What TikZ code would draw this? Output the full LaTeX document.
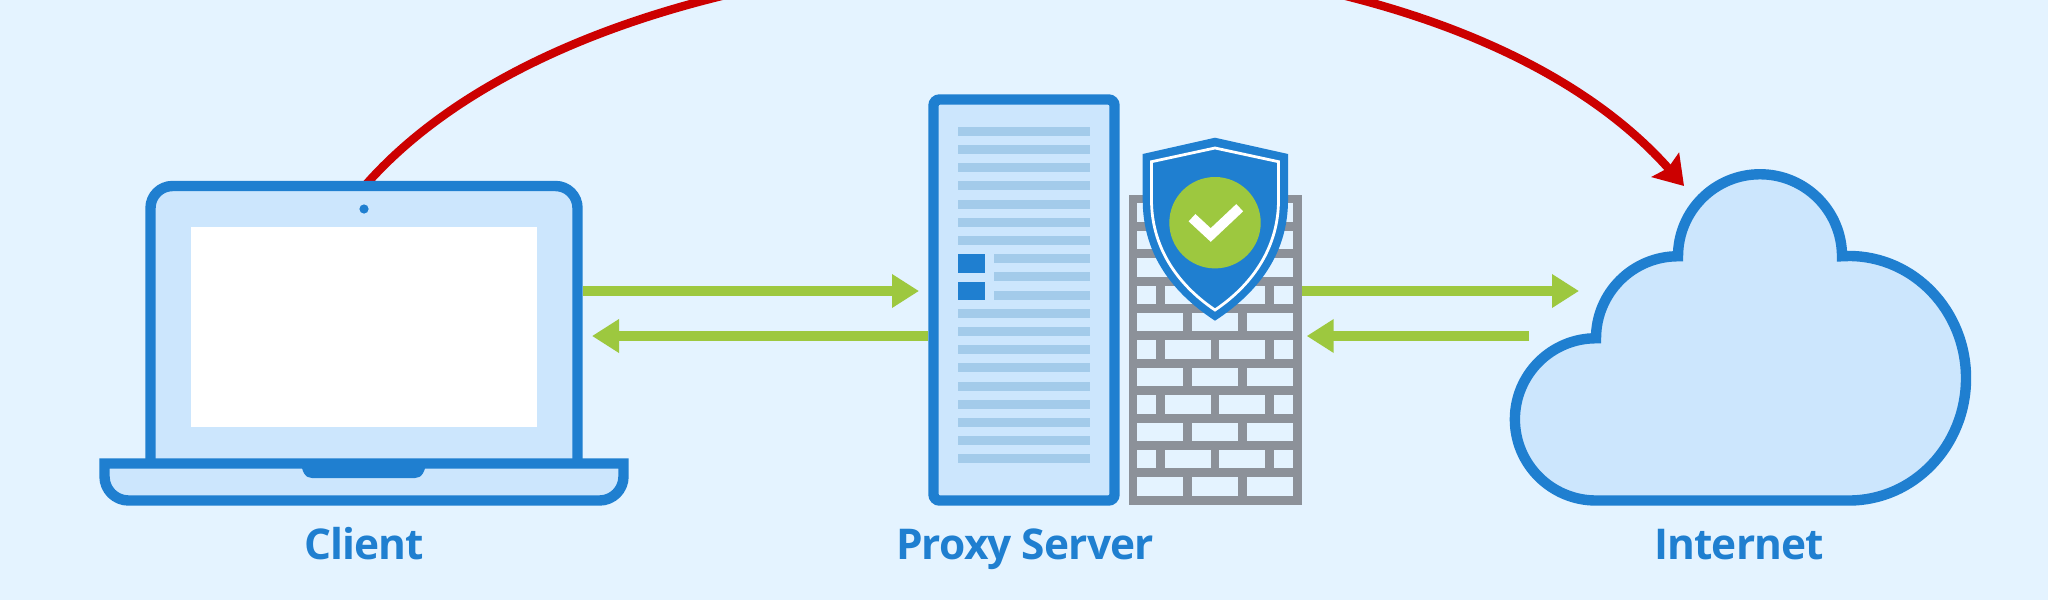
\documentclass[tikz,border=0pt]{standalone}
\usepackage{fontspec}
\setmainfont{Open Sans}[LetterSpace=-2]
\usetikzlibrary{arrows.meta, positioning}
\definecolor{skybg}{HTML}{E4F3FF}
\definecolor{paneblue}{HTML}{CCE6FD}
\definecolor{edgeblue}{HTML}{1F7FD0}
\definecolor{rowblue}{HTML}{A3CBEA}
\definecolor{okgreen}{HTML}{9DC83F}
\definecolor{alarmred}{HTML}{CC0000}
\definecolor{wallgray}{HTML}{8C9199}
\pgfdeclarelayer{back}
\pgfsetlayers{back,main}

\begin{document}
\begin{tikzpicture}[x=0.5pt, y=-0.5pt,
    device/.style={draw=edgeblue, fill=paneblue, line width=5.2pt},
    box/.style={device, rectangle, inner sep=0pt},
    flow/.style={draw=okgreen, line width=5pt, -{Triangle[length=13.5pt,width=16pt]}},
    tag/.style={text=edgeblue, anchor=base, font=\fontsize{21.2}{24}\selectfont\bfseries},
    row/.style={fill=rowblue}, brick/.style={fill=skybg}]

  \useasboundingbox (0,0) rectangle (2048,600);
  \begin{pgfonlayer}{back}
    \fill[skybg] (0,0) rectangle (2048,600);
  \end{pgfonlayer}

  % client
  \node[box, rounded corners=11pt, minimum width=213.5pt, minimum height=152pt] (Lid) at (364,338) {};
  \fill[white] (191,227) rectangle (537,427);
  \fill[edgeblue] (364,209) circle (2.3pt);
  \draw[device, line join=miter] (104.5,463.5) -- (623.5,463.5) [rounded corners=12pt] -- (623.5,500.5) -- (104.5,500.5) [sharp corners] -- cycle;
  \fill[edgeblue] (300,459) .. controls (302,472) and (305,478) .. (312,478) -- (415,478) .. controls (422,478) and (425,472) .. (427,459) -- cycle;
  \node[tag] (ClientTag) at (364,559) {Client};

  % proxy server
  \node[box, rounded corners=3pt, minimum width=90.5pt, minimum height=200.5pt] (Server) at (1024,300) {};
  \foreach \k in {0,...,6}
    \fill[row] (958,{126.7+18.2*\k}) rectangle (1090,{135.7+18.2*\k});
  \foreach \k in {7,8,9}
    \fill[row] (994.3,{126.7+18.2*\k}) rectangle (1090,{135.7+18.2*\k});
  \foreach \k in {10,...,18}
    \fill[row] (958,{126.7+18.2*\k}) rectangle (1090,{135.7+18.2*\k});
  \fill[edgeblue] (958,254.3) rectangle (985.3,272.7);
  \fill[edgeblue] (958,281.7) rectangle (985.3,300);
  \node[tag] (ServerTag) at (1025,559) {Proxy Server};

  % firewall
  \node[fill=wallgray, inner sep=0pt, minimum width=86.5pt, minimum height=155pt] (Wall) at (1215.5,350) {};
  \foreach \r in {0,2,...,10}
    \foreach \a/\b in {1137.3/1183.3,1192/1238,1246.7/1292.7}
      \fill[brick] (\a,{477.3-27.4*\r}) rectangle (\b,{495.7-27.4*\r});
  \foreach \r in {1,3,...,9}
    \foreach \a/\b in {1137.3/1156,1165/1210.7,1219.3/1265.3,1274/1292.7}
      \fill[brick] (\a,{477.3-27.4*\r}) rectangle (\b,{495.7-27.4*\r});

  % shield
  \fill[edgeblue] (1215,137.7) -- (1288,154) -- (1288,200) .. controls (1288,250) and (1262,290) .. (1215,320.7)
    .. controls (1168,290) and (1142.7,250) .. (1142.7,200) -- (1142.7,154) -- cycle;
  \draw[white, line width=1.4pt] (1215,148) -- (1278.5,161.7) -- (1278.5,200) .. controls (1278.5,245) and (1255,283) .. (1215,310)
    .. controls (1175,283) and (1151.5,245) .. (1151.5,200) -- (1151.5,161.7) -- cycle;
  \node[circle, fill=okgreen, inner sep=0pt, minimum size=45.7pt] (Badge) at (1215,222.7) {};
  \draw[white, line width=5pt] (1192,217.7) -- (1210.7,235) -- (1239.7,207.7);

  % cloud
  \draw[device, line join=miter] (1596,500.5) -- (1849,500.5)
    arc[start angle=-90, end angle=90, x radius=58.5pt, y radius=61.125pt] -- (1842,256.25)
    arc[start angle=0, end angle=180, radius=41pt]
    arc[start angle=90, end angle=180, radius=41pt]
    arc[start angle=90, end angle=270, radius=40.5625pt] -- cycle;
  \node[tag] (CloudTag) at (1739,559) {Internet};

  % links
  \coordinate (UpA) at (919,291);
  \coordinate (DownA) at (592,336);
  \coordinate (UpB) at (1579,291);
  \coordinate (DownB) at (1306.7,336);
  \coordinate (DownTail) at (1529,336);
  \coordinate (Hit) at (1684,186);
  \draw[flow] (Lid.east |- UpA) -- (UpA);
  \draw[flow] (Server.west |- DownA) -- (DownA);
  \draw[flow] (Wall.east |- UpB) -- (UpB);
  \draw[flow] (DownTail) -- (DownB);
  \begin{pgfonlayer}{back}
    \draw[draw=alarmred, line width=4.2pt, -{Stealth[length=14pt,width=18pt,inset=2pt]}]
      ([yshift=-3pt]Lid.north) .. controls (620,-108) and (1415,-118) .. (Hit);
  \end{pgfonlayer}
\end{tikzpicture}
\end{document}
